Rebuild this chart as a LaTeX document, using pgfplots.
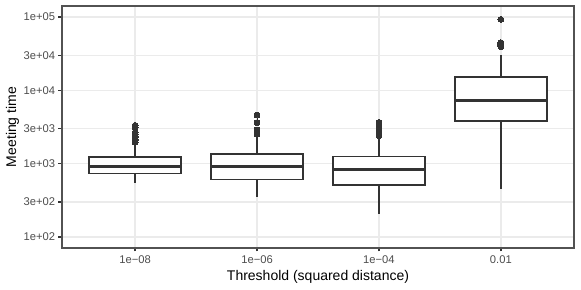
\documentclass[border=0pt]{standalone}
\usepackage{fontspec}
\setmainfont{Liberation Sans}
\usepackage{pgfplots}
\pgfplotsset{compat=1.18}
\usepgfplotslibrary{statistics}
\definecolor{grey20}{HTML}{333333}
\definecolor{grey30}{HTML}{4D4D4D}
\definecolor{gridc}{HTML}{EBEBEB}
\tikzset{bx/.style={draw=grey20, line width=1.45pt, fill=white,
     mark=*, mark size=2.3pt, mark options={fill=grey20, draw=grey20, line width=0pt}}}
\begin{document}
\begin{tikzpicture}
\begin{axis}[
  scale only axis, width=402.3pt, height=190.1pt,
  ymode=log, ymin=70.79, ymax=141254,
  xmin=-0.6, xmax=3.6,
  xtick={0,1,2,3}, xticklabels={1e−08,1e−06,1e−04,0.01},
  ytick={100,300,1000,3000,10000,30000,100000},
  yticklabels={1e+02,3e+02,1e+03,3e+03,1e+04,3e+04,1e+05},
  yminorticks=false, xminorticks=false,
  grid=major, grid style={color=gridc, line width=1.07pt},
  axis line style={color=grey20!85!white, line width=1.07pt},
  tick style={color=grey20, line width=1.07pt},
  tick align=outside, major tick length=2.75pt,
  tick pos=left,
  ticklabel style={font=\fontsize{8.8}{10}\selectfont, text=grey30},
  xticklabel style={inner sep=0pt, anchor=north, yshift=-3pt},
  yticklabel style={inner sep=0pt, anchor=east, xshift=-2.5pt},
  label style={font=\fontsize{11}{13}\selectfont, text=black},
  xlabel={Threshold (squared distance)},
  ylabel={Meeting time},
  xlabel style={at={(axis description cs:0.5,-0.1351)}, anchor=base, inner sep=0pt},
  ylabel style={at={(axis description cs:-0.0967,0.5)}, anchor=center, inner sep=0pt},
  boxplot/draw direction=y,
  boxplot/every box/.style={line width=1.45pt},
  boxplot/every whisker/.style={line width=1.45pt},
  boxplot/every median/.style={line width=2.4pt},
]
\addplot[bx, boxplot prepared={draw position=0, median=903, upper quartile=1233,
   lower quartile=734, upper whisker=1837, lower whisker=542,
   box extend=0.75, whisker extend=0}]
  coordinates {(0,3327) (0,3125) (0,2672) (0,2500) (0,2358) (0,2250) (0,2147) (0,2050) (0,1954)};
\addplot[bx, boxplot prepared={draw position=1, median=914, upper quartile=1343,
   lower quartile=608, upper whisker=2264, lower whisker=347,
   box extend=0.75, whisker extend=0}]
  coordinates {(0,4592) (0,3622) (0,2872) (0,2780) (0,2673) (0,2590) (0,2510)};
\addplot[bx, boxplot prepared={draw position=2, median=839, upper quartile=1251,
   lower quartile=505, upper whisker=2198, lower whisker=204,
   box extend=0.75, whisker extend=0}]
  coordinates {(0,3650) (0,3450) (0,3250) (0,3100) (0,2950) (0,2800) (0,2650) (0,2500) (0,2400)};
\addplot[bx, boxplot prepared={draw position=3, median=7279, upper quartile=15100,
   lower quartile=3854, upper whisker=30700, lower whisker=449,
   box extend=0.75, whisker extend=0}]
  coordinates {(0,92700) (0,44700) (0,43300) (0,41980) (0,40700) (0,39450)};
\end{axis}
\pgfresetboundingbox
\path[use as bounding box] ([shift={(-48.7pt,-33pt)}]current axis.south west)
  rectangle ([shift={(5.5pt,4.7pt)}]current axis.north east);
\end{tikzpicture}
\end{document}
